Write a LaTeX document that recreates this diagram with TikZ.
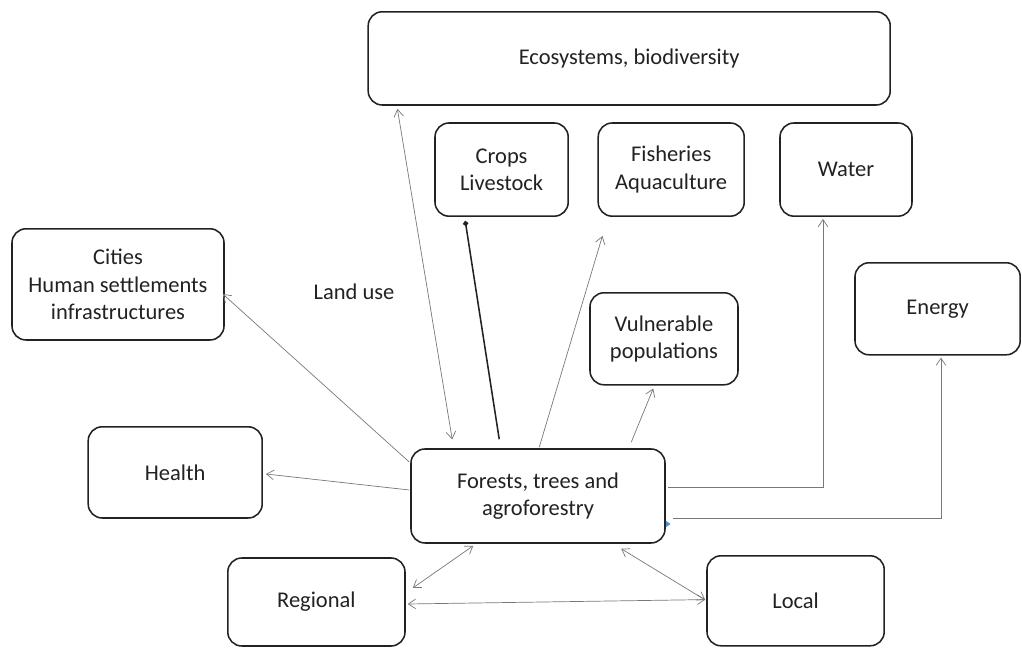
\documentclass[tikz,border=0pt]{standalone}
\usepackage{fontspec}
\setmainfont{Carlito}
\usepackage{tikz}
\usetikzlibrary{arrows.meta,positioning,calc}
\definecolor{ink}{RGB}{34,34,34}
\definecolor{wire}{RGB}{120,120,120}
\definecolor{speck}{RGB}{70,140,220}
\tikzset{
  box/.style={draw=ink, rounded corners=3.5mm, line width=1.1pt, fill=white,
              align=center, text=ink, font=\fontsize{16}{19.5}\selectfont, inner sep=2pt},
  link/.style={-{Straight Barb[length=1.8mm,width=2.4mm]}, wire, line width=0.5pt},
  both/.style={{Straight Barb[length=1.8mm,width=2.4mm]}-{Straight Barb[length=1.8mm,width=2.4mm]}, wire, line width=0.5pt},
}
\begin{document}
\begin{tikzpicture}
    \useasboundingbox (0,0) rectangle (25.55,16.2);
    % --- boxes ---
    \node[box, minimum width=13.05cm, minimum height=2.33cm] (eco) at (15.73,14.74) {Ecosystems, biodiversity};
    \node[box, minimum width=3.33cm, minimum height=2.33cm] (crops) at (12.54,11.96) {Crops\\Livestock};
    \node[box, minimum width=3.65cm, minimum height=2.33cm] (fish) at (16.78,11.96) {Fisheries\\Aquaculture};
    \node[box, minimum width=3.3cm, minimum height=2.33cm] (water) at (21.15,11.96) {Water};
    \node[box, minimum width=5.3cm, minimum height=2.78cm] (cities) at (2.95,9.09) {Cities\\Human settlements\\infrastructures};
    \node[box, minimum width=4.13cm, minimum height=2.3cm] (energy) at (23.44,8.48) {Energy};
    \node[box, minimum width=3.7cm, minimum height=2.3cm] (vuln) at (16.6,7.73) {Vulnerable\\populations};
    \node[box, minimum width=4.35cm, minimum height=2.28cm] (health) at (4.38,4.39) {Health};
    \node[box, minimum width=6.35cm, minimum height=2.35cm] (forests) at (13.45,3.8) {Forests, trees and\\agroforestry};
    \node[box, minimum width=4.43cm, minimum height=2.2cm] (regional) at (7.91,1.15) {Regional};
    \node[box, minimum width=4.43cm, minimum height=2.25cm] (local) at (19.89,1.18) {Local};
    \node[text=ink, font=\fontsize{16}{19.5}\selectfont] (landuse) at (8.85,8.9) {Land use};
    % --- links from the forests box ---
    \draw[both] ($(forests.north west)+(1.05,0.22)$) -- ($(eco.south west)+(0.75,-0.08)$);
    \draw[-{Circle[length=1.3mm]}, ink, line width=1.1pt] ($(forests.north west)+(2.225,0.225)$) -- ($(crops.south west)+(0.775,-0.1)$);
    \draw[link] ($(forests.north west)+(3.225,0.025)$) -- ($(fish.south west)+(0.125,-0.475)$);
    \draw[link] ($(forests.north west)+(5.525,0.15)$) -- ($(vuln.south west)+(1.6,-0.075)$);
    \draw[link] ($(forests.east)+(0.05,0.225)$) -| ($(water.south)+(-0.575,-0.05)$);
    \draw[link] ($(forests.east)+(0.175,-0.55)$) -| ($(energy.south)+(0.085,-0.05)$);
    \draw[link] ($(forests.west)+(-0.025,0.85)$) -- ($(cities.east)+(-0.05,-0.24)$);
    \draw[link] ($(forests.west)+(-0.025,0.15)$) -- ($(health.east)+(0.075,-0.04)$);
    % --- scale links ---
    \draw[both] ($(forests.south west)+(1.575,-0.05)$) -- ($(regional.east)+(0.175,0.35)$);
    \draw[both] ($(forests.south west)+(5.275,-0.125)$) -- ($(local.west)+(-0.025,0.02)$);
    \draw[both] ($(regional.east)+(0.05,-0.05)$) -- ($(local.west)+(-0.025,0.03)$);
    \fill[speck] ($(forests.east)+(0.0,-0.62)$) -- ++(0.12,-0.08) -- ++(-0.12,-0.08) -- cycle;
\end{tikzpicture}
\end{document}
